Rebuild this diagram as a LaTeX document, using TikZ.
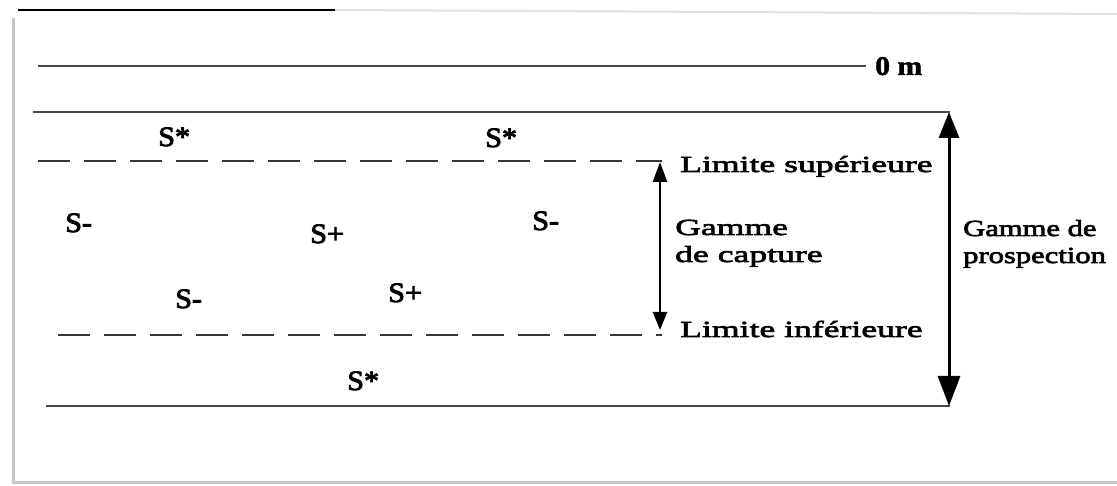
\documentclass[tikz,border=0pt]{standalone}
\usepackage{fontspec}
\setmainfont{Liberation Serif}
\newfontfamily\labfont[FakeStretch=1.55,FakeBold=3]{Liberation Serif}
\newfontfamily\narfont[FakeStretch=1.33,FakeBold=3]{Liberation Serif}
\newfontfamily\sfontS[FakeStretch=1.08,FakeBold=3]{Liberation Serif}
\newfontfamily\zerofont[FakeStretch=1.1,FakeBold=1.5]{Liberation Serif}
\usetikzlibrary{arrows.meta}
\tikzset{
  surf/.style={draw=black!72, line width=2pt},
  dashline/.style={draw=black!78, line width=2pt, dash pattern=on 32pt off 14pt},
  framel/.style={draw=black!22, line width=3pt},
  bigarrow/.style={line width=3pt, {Triangle[length=26pt,width=20pt]}-{Triangle[length=30pt,width=22pt]}},
  smallarrow/.style={line width=2.6pt, {Triangle[length=20pt,width=14pt]}-{Triangle[length=18pt,width=14pt]}},
  lab/.style={anchor=base west, inner sep=0pt, font=\labfont\fontsize{23}{27}\selectfont},
  narlab/.style={anchor=base west, inner sep=0pt, font=\narfont\fontsize{23}{27}\selectfont},
  slab/.style={anchor=base west, inner sep=0pt, font=\sfontS\fontsize{28}{30}\selectfont},
}
\begin{document}
\begin{tikzpicture}[x=1pt,y=-1pt]
\useasboundingbox (0,0) rectangle (1117,486);
\clip (0,0) rectangle (1117,486);
\fill[white] (0,0) rectangle (1117,486);
% frame
\coordinate (fTL) at (13,18);
\coordinate (fBL) at (13,482);
\coordinate (fBR) at (1117,482);
\coordinate (tA) at (18,10);
\coordinate (tB) at (335,10);
\coordinate (tC) at (1117,14);
\draw[framel] (fTL) -- (fBL) -- (fBR);
\draw[draw=black!12, line width=2pt] (tB) -- (tC);
\draw[black, line width=1.6pt] (tA) -- (tB);
% levels
\coordinate (zA) at (38,66);   \coordinate (zB) at (866,66);
\coordinate (sA) at (33,112);  \coordinate (sB) at (950,112);
\coordinate (uA) at (38,161);  \coordinate (uB) at (662,161);
\coordinate (lA) at (58,335);  \coordinate (lB) at (662,335);
\coordinate (bA) at (46,406);  \coordinate (bB) at (950,406);
\draw[surf] (zA) -- (zB);
\draw[surf] (sA) -- (sB);
\draw[dashline] (uA) -- (uB);
\draw[dashline] (lA) -- (lB);
\draw[surf] (bA) -- (bB);
% arrows
\coordinate (cT) at (660,162);
\coordinate (cB) at (660,330);
\coordinate (pT) at (949,112);
\coordinate (pB) at (949,406);
\draw[smallarrow] (cT) -- (cB);
\draw[bigarrow] (pT) -- (pB);
% labels
\node[anchor=base west, inner sep=0pt, font=\zerofont\bfseries\fontsize{27}{30}\selectfont] (zero) at (875,75) {0 m};
\node[lab] (limsup) at (680,172) {Limite supérieure};
\node[lab] (liminf) at (680,337) {Limite inférieure};
\node[lab] (gc1) at (675,235) {Gamme};
\node[lab] (gc2) at (675,262) {de capture};
\node[narlab] (gp1) at (963,236) {Gamme de};
\node[narlab] (gp2) at (963,263) {prospection};
% species
\node[slab] (s1) at (158,146) {S*};
\node[slab] (s2) at (485,147) {S*};
\node[slab] (s3) at (347,390) {S*};
\node[slab] (s4) at (65,232) {S-};
\node[slab] (s5) at (532,230) {S-};
\node[slab] (s6) at (175,308) {S-};
\node[slab] (s7) at (310,243) {S+};
\node[slab] (s8) at (388,302) {S+};
\end{tikzpicture}
\end{document}
